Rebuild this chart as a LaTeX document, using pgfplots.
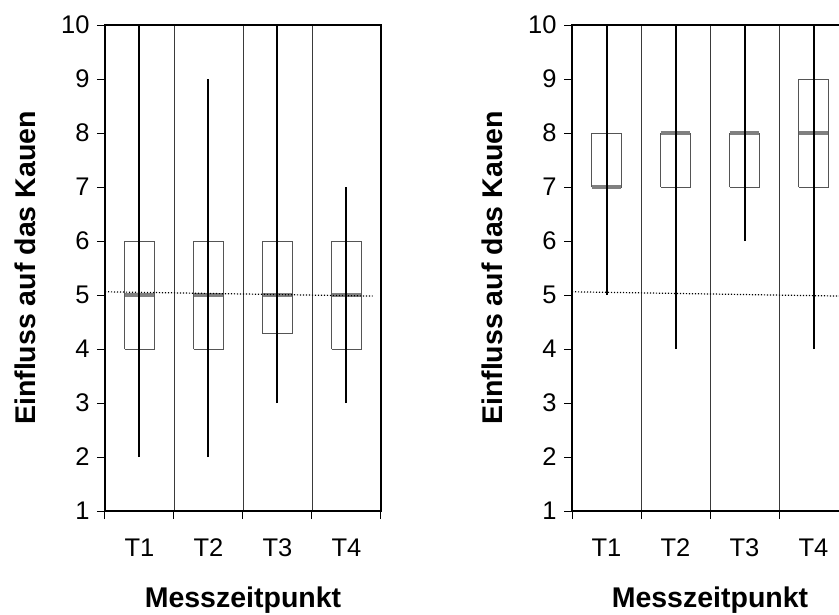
\documentclass[border=0pt]{standalone}
\usepackage{pgfplots}
\pgfplotsset{compat=1.18}
\usepackage{fontspec}
\setmainfont{Liberation Sans}
\definecolor{boxgray}{HTML}{555555}
\definecolor{medgray}{HTML}{808080}
\definecolor{sepgray}{HTML}{3A3A3A}
\pgfplotsset{
  panel/.style={
    scale only axis, width=276pt, height=486pt,
    xmin=0.5, xmax=4.5, ymin=1, ymax=10,
    ytick={1,2,...,10},
    xtick={1,2,3,4}, xticklabels={T1,T2,T3,T4},
    minor xtick={0.5,1.5,2.5,3.5,4.5},
    xminorgrids=true,
    minor grid style={sepgray, line width=0.8pt},
    major x tick style={draw=none},
    minor x tick style={black, line width=1pt},
    major y tick style={black, line width=1pt},
    tick align=outside, tick pos=left,
    major tick length=8pt, minor tick length=8pt,
    axis line style={black, line width=1.5pt},
    /pgf/number format/assume math mode=true,
    tick label style={font=\fontsize{25.5}{30}\selectfont},
    xticklabel style={yshift=-16pt},
    yticklabel style={xshift=-4pt},
    every axis x label/.style={at={(axis description cs:0.5,-0.198)}, anchor=base, font=\fontsize{28.5}{32}\selectfont\bfseries},
    every axis y label/.style={at={(axis description cs:-0.2536,0.5)}, rotate=90, anchor=base, inner sep=0pt, font=\fontsize{28.5}{32}\selectfont\bfseries},
    xlabel={Messzeitpunkt}, ylabel={Einfluss auf das Kauen},
    unbounded coords=jump, clip=false,
  },
  boxst/.style={draw=boxgray, line width=1pt},
  medst/.style={draw=medgray, line width=3.5pt},
  whst/.style={draw=black, line width=2pt},
  trendst/.style={draw=black, line width=1.2pt, dash pattern=on 1.2pt off 1.8pt},
}
\begin{document}
\begin{tikzpicture}
% left panel
\begin{axis}[panel, at={(105pt,103pt)}, anchor=south west]
\addplot[boxst] coordinates {
 (0.783,4) (1.217,4) (1.217,6) (0.783,6) (0.783,4) (1,nan)
 (1.783,4) (2.217,4) (2.217,6) (1.783,6) (1.783,4) (2,nan)
 (2.783,4.28) (3.217,4.28) (3.217,6) (2.783,6) (2.783,4.28) (3,nan)
 (3.783,4) (4.217,4) (4.217,6) (3.783,6) (3.783,4)};
\addplot[medst] coordinates {
 (0.783,5) (1.217,5) (1,nan)
 (1.783,5) (2.217,5) (2,nan)
 (2.783,5) (3.217,5) (3,nan)
 (3.783,5) (4.217,5)};
\addplot[whst] coordinates {
 (1,2) (1,10) (1,nan)
 (2,2) (2,9) (2,nan)
 (3,3) (3,10) (3,nan)
 (4,3) (4,7)};
\addplot[trendst] coordinates {(0.5,5.06) (4.38,4.98)};
\end{axis}
% right panel
\begin{axis}[panel, at={(572pt,103pt)}, anchor=south west]
\addplot[boxst] coordinates {
 (0.783,7) (1.217,7) (1.217,8) (0.783,8) (0.783,7) (1,nan)
 (1.783,7) (2.217,7) (2.217,8) (1.783,8) (1.783,7) (2,nan)
 (2.783,7) (3.217,7) (3.217,8) (2.783,8) (2.783,7) (3,nan)
 (3.783,7) (4.217,7) (4.217,9) (3.783,9) (3.783,7)};
\addplot[medst] coordinates {
 (0.783,7) (1.217,7) (1,nan)
 (1.783,8) (2.217,8) (2,nan)
 (2.783,8) (3.217,8) (3,nan)
 (3.783,8) (4.217,8)};
\addplot[whst] coordinates {
 (1,5) (1,10) (1,nan)
 (2,4) (2,10) (2,nan)
 (3,6) (3,10) (3,nan)
 (4,4) (4,10)};
\addplot[trendst] coordinates {(0.5,5.06) (4.38,4.98)};
\end{axis}
\pgfresetboundingbox
\useasboundingbox (0,0) rectangle (839pt,614pt);
\end{tikzpicture}
\end{document}
